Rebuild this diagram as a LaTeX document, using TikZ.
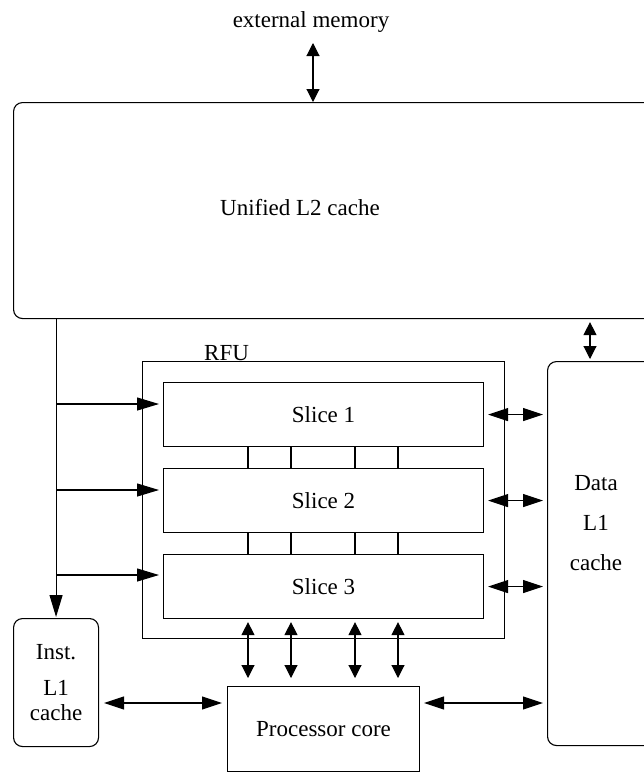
\documentclass[tikz,border=0pt]{standalone}
\usepackage{fontspec}
\setmainfont{Liberation Serif}
\usetikzlibrary{arrows.meta}
\tikzset{
  blk/.style={draw, line width=1.1pt, inner sep=0pt, anchor=north west},
  rblk/.style={blk, rounded corners=9pt},
  wire/.style={line width=1.1pt},
  one/.style={wire, -{Triangle[length=22pt,width=13pt]}},
  dbl/.style={wire, {Triangle[length=20pt,width=13pt]}-{Triangle[length=20pt,width=13pt]}},
  dbls/.style={wire, {Triangle[length=13pt,width=13pt]}-{Triangle[length=13pt,width=13pt]}}
}
\begin{document}
\begin{tikzpicture}[x=1pt,y=-1pt,font=\fontsize{23}{27}\selectfont]
\useasboundingbox (0,0) rectangle (644,772);
\clip (0,0) rectangle (644,772);

% memory side
\node (mem) at (311,22) {external memory};
\node[rblk, minimum width=720pt, minimum height=216pt] (l2) at (13,102) {};
\node (l2txt) at (300,208) {Unified L2 cache};
\coordinate (memp) at (313,43);
\draw[dbls] (memp) -- (memp |- l2.north);

% RFU with its slices
\node[blk, minimum width=362pt, minimum height=277pt] (rfu) at (142,361) {};
\node[anchor=base west, inner sep=0pt] (rfulbl) at (204,360) {RFU};
\foreach \n/\y in {1/382, 2/468, 3/554}
  \node[blk, minimum width=320pt, minimum height=64pt] (s\n) at (163,\y) {Slice \n};
\foreach \x in {248,291,355,398} {
  \draw[wire] (s1.south -| \x,0) -- (s2.north -| \x,0);
  \draw[wire] (s2.south -| \x,0) -- (s3.north -| \x,0);
}

% caches and core
\node[rblk, minimum width=85pt, minimum height=128pt, align=center] (il1) at (13,618) {Inst.\\[9pt]L1\\[-2pt]cache};
\node[rblk, minimum width=200pt, minimum height=384pt] (dl1) at (547,361) {};
\node[align=center] (dl1txt) at (596,523) {Data\\[13pt]L1\\[13pt]cache};
\node[blk, minimum width=192pt, minimum height=85pt] (pc) at (227,686) {Processor core};

% instruction feed
\draw[one, shorten >=1pt] (il1.north |- l2.south) -- (il1.north);
\foreach \s/\y in {s1/404, s2/490, s3/575}
  \draw[one, shorten >=4pt] (il1.north |- 0,\y) -- (\s.west |- 0,\y);

% data paths
\foreach \s in {s1,s2,s3}
  \draw[dbl, shorten <=4pt, shorten >=4pt] (\s.east) -- (dl1.west |- \s.east);
\draw[dbls, shorten <=3pt, shorten >=2pt] (l2.south -| 590,0) -- (dl1.north -| 590,0);
\foreach \x in {248,291,355,398}
  \draw[dbls, shorten <=3pt, shorten >=8pt] (s3.south -| \x,0) -- (pc.north -| \x,0);
\draw[dbl, shorten <=5pt, shorten >=5pt] (il1.east |- 0,703) -- (pc.west |- 0,703);
\draw[dbl, shorten <=4pt, shorten >=4pt] (pc.east |- 0,703) -- (dl1.west |- 0,703);
\end{tikzpicture}
\end{document}
